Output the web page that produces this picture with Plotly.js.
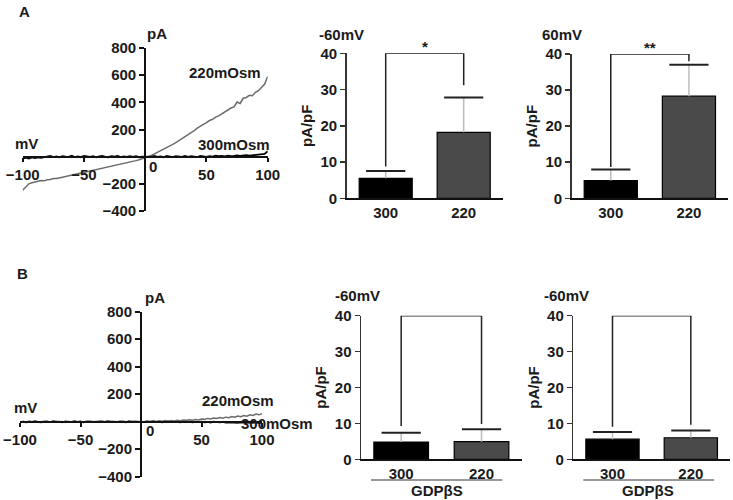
<!DOCTYPE html>
<html>
<head>
<meta charset="utf-8">
<script src="https://cdn.plot.ly/plotly-3.0.1.min.js"></script>
<style>html,body{margin:0;padding:0;background:#fff;}#chart{width:733px;height:500px;}</style>
</head>
<body>
<div id="chart"></div>
<script>
// ---------- DATA ----------
const mV = [-100,-97.5,-95,-92.5,-90,-87.5,-85,-82.5,-80,-77.5,-75,-72.5,-70,-67.5,-65,-62.5,-60,-57.5,-55,-52.5,-50,-47.5,-45,-42.5,-40,-37.5,-35,-32.5,-30,-27.5,-25,-22.5,-20,-17.5,-15,-12.5,-10,-7.5,-5,-2.5,0,2.5,5,7.5,10,12.5,15,17.5,20,22.5,25,27.5,30,32.5,35,37.5,40,42.5,45,47.5,50,52.5,55,57.5,60,62.5,65,67.5,70,72.5,75,77.5,80,82.5,85,87.5,90,92.5,95,97.5,100];
const iA220 = [-248,-222,-200,-192,-186,-183,-176,-178,-170,-168,-161,-160,-153,-151,-146,-141,-137,-134,-127,-124,-117,-114,-108,-102,-97,-94,-88,-82,-78,-72,-68,-63,-57,-52,-46,-41,-35,-29,-23,-16,-8,0,9,20,31,43,55,66,78,91,104,118,133,148,164,178,192,210,221,238,250,266,275,291,300,316,327,342,358,366,402,392,430,436,452,448,474,486,512,535,590];
const iA300 = [-12,-8,-14,-6,-10,-5,-9,-3,-1,6,-3,2,-5,4,0,-2,7,-3,1,-4,5,0,-2,3,-5,2,6,-1,-4,3,0,5,-3,2,-2,4,-1,3,-4,1,0,3,-2,5,-1,2,-4,6,0,-3,4,1,-2,5,-1,3,0,-3,6,2,-1,4,1,7,3,5,2,8,4,6,9,5,8,11,7,10,13,12,16,20,40];
const iB220 = [-4,2,-6,0,-3,3,-5,1,-2,4,-4,0,3,-3,1,-5,2,-1,4,-2,0,-4,3,-1,2,-3,1,4,-2,0,3,-1,2,-3,4,0,-2,3,1,-1,2,0,4,1,5,2,6,3,8,4,9,6,11,7,12,10,14,11,16,13,20,17,24,20,27,23,30,26,33,29,37,32,41,36,45,40,50,45,55,50,58];
const iB300 = [-3,1,-4,2,-2,3,-1,-5,2,0,-3,4,-2,1,-4,2,0,-3,3,-1,2,-4,1,3,-2,0,-3,2,-1,4,-2,1,-3,2,0,-4,3,-1,1,-2,0,-3,2,-1,3,-2,1,-4,0,2,-3,1,-1,-4,2,-2,0,-5,-1,-3,1,-4,-2,-6,0,-3,-5,-2,-7,-4,-6,-3,-8,-5,-7,-9,-6,-8,-5,-10,-8];

const groups = ['300', '220'];
const meanA_neg60 = [5.5, 18.2];
const semA_neg60  = [2.0, 9.6];
const meanA_pos60 = [4.9, 28.3];
const semA_pos60  = [3.1, 8.7];
const meanB_left  = [4.8, 4.9];
const semB_left   = [2.6, 3.5];
const meanB_right = [5.6, 6.0];
const semB_right  = [2.0, 2.0];

const bracketTop = 40;
const legsA_neg60 = [8.8, 31.2];
const legsA_pos60 = [8.7, 38.0];
const legsB_left  = [9.3, 9.8];
const legsB_right = [9.1, 9.6];

const ivTicksX = [-100, -50, 50, 100];
const ivTicksY = [-400, -200, 200, 400, 600, 800];
const barTicksY = [0, 10, 20, 30, 40];

// ---------- STYLE ----------
const W = 733, H = 500;
const FF = 'Liberation Sans, Arial, Helvetica, sans-serif';
const TXT = '#1a1a1a';
const F = {family: FF, size: 15, color: TXT, weight: 'bold'};
const px = (x) => x / W;
const py = (y) => 1 - y / H;

const traces = [];
// IV A
traces.push({x: mV, y: iA220, xaxis: 'x', yaxis: 'y', mode: 'lines', line: {color: '#6b6b6b', width: 1.5}, hoverinfo: 'skip'});
traces.push({x: mV, y: iA300, xaxis: 'x', yaxis: 'y', mode: 'lines', line: {color: '#000', width: 1.8}, hoverinfo: 'skip'});
// IV B
traces.push({x: mV, y: iB300, xaxis: 'x2', yaxis: 'y2', mode: 'lines', line: {color: '#111', width: 1.8}, hoverinfo: 'skip'});
traces.push({x: mV, y: iB220, xaxis: 'x2', yaxis: 'y2', mode: 'lines', line: {color: '#6b6b6b', width: 1.5}, hoverinfo: 'skip'});

function barPanel(n, mean, sem) {
  const xa = 'x' + n, ya = 'y' + n;
  traces.push({
    type: 'bar', x: groups, y: mean, xaxis: xa, yaxis: ya,
    marker: {color: ['#000000', '#4a4a4a'], line: {color: '#000', width: 1.2}},
    error_y: {type: 'data', symmetric: false, array: sem, arrayminus: [0, 0], color: '#bdbdbd', thickness: 1.5, width: 0},
    hoverinfo: 'skip'
  });
  traces.push({
    type: 'scatter', mode: 'markers', x: groups, y: mean.map((m, i) => m + sem[i]), xaxis: xa, yaxis: ya,
    marker: {symbol: 'line-ew', size: 28, color: '#222', line: {color: '#222', width: 2}},
    hoverinfo: 'skip'
  });
}
barPanel(3, meanA_neg60, semA_neg60);
barPanel(4, meanA_pos60, semA_pos60);
barPanel(5, meanB_left, semB_left);
barPanel(6, meanB_right, semB_right);

// ---------- AXES ----------
function ivX(dom, pos) {
  return {domain: dom, range: [-100, 100], anchor: 'free', position: pos, tickvals: ivTicksX,
    showline: true, linecolor: '#111', linewidth: 2, ticks: 'outside', ticklen: 4, tickwidth: 2, tickcolor: '#111',
    showgrid: false, zeroline: false, tickfont: F, fixedrange: true};
}
function ivY(dom, pos) {
  return {domain: dom, range: [-400, 800], anchor: 'free', position: pos, tickvals: ivTicksY,
    showline: true, linecolor: '#111', linewidth: 2, ticks: 'outside', ticklen: 5, tickwidth: 2, tickcolor: '#111',
    showgrid: false, zeroline: false, tickfont: F, fixedrange: true};
}
function barX(dom, anchor) {
  return {domain: dom, anchor: anchor, type: 'category', range: [-0.5, 1.5], showline: true, linecolor: '#111', linewidth: 1.5,
    ticks: '', showgrid: false, zeroline: false, tickfont: F, fixedrange: true};
}
function barY(dom, anchor) {
  return {domain: dom, anchor: anchor, range: [0, 40], tickvals: barTicksY, showline: true, linecolor: '#333', linewidth: 1.5,
    ticks: 'outside', ticklen: 5, tickwidth: 1.5, tickcolor: '#333', showgrid: false, zeroline: false, tickfont: F,
    title: {text: 'pA/pF', font: F, standoff: 4}, fixedrange: true};
}

const dAx = [px(22.7), px(267.7)], dAy = [py(211), py(48)];
const dBx = [px(20), px(262)], dBy = [py(476.7), py(311.7)];

const layout = {
  width: W, height: H, margin: {l: 0, r: 0, t: 0, b: 0}, paper_bgcolor: '#fff', plot_bgcolor: 'rgba(0,0,0,0)',
  showlegend: false, bargap: 0.32, font: {family: FF, color: TXT},
  xaxis: ivX(dAx, dAy[0] + (dAy[1] - dAy[0]) / 3),
  yaxis: ivY(dAy, (dAx[0] + dAx[1]) / 2),
  xaxis2: ivX(dBx, dBy[0] + (dBy[1] - dBy[0]) / 3),
  yaxis2: ivY(dBy, (dBx[0] + dBx[1]) / 2),
  xaxis3: barX([px(346.7), px(502.7)], 'y3'),
  yaxis3: barY([py(198.3), py(53.3)], 'x3'),
  xaxis4: barX([px(571.7), px(728)], 'y4'),
  yaxis4: barY([py(198.3), py(54)], 'x4'),
  xaxis5: barX([px(361), px(521.7)], 'y5'),
  yaxis5: barY([py(459.3), py(315.7)], 'x5'),
  xaxis6: barX([px(573.3), px(730)], 'y6'),
  yaxis6: barY([py(459.3), py(315.7)], 'x6'),
  shapes: [], annotations: []
};

function bracket(n, legs) {
  layout.shapes.push({type: 'path', xref: 'x' + n, yref: 'y' + n,
    path: `M 0 ${legs[0]} L 0 ${bracketTop} L 1 ${bracketTop} L 1 ${legs[1]}`,
    line: {color: '#222', width: 1.5}});
}
bracket(3, legsA_neg60);
bracket(4, legsA_pos60);
bracket(5, legsB_left);
bracket(6, legsB_right);

function note(text, x, y, opts) {
  layout.annotations.push(Object.assign({text: text, x: px(x), y: py(y), xref: 'paper', yref: 'paper',
    showarrow: false, font: F, xanchor: 'center', yanchor: 'middle'}, opts || {}));
}
note('A', 24, 11);
note('B', 22, 273);
note('pA', 157, 33);
note('mV', 27, 143);
note('220mOsm', 225, 72);
note('300mOsm', 234, 144);
note('0', 153, 166);
note('pA', 155, 297);
note('mV', 25, 407);
note('220mOsm', 238, 400);
note('300mOsm', 277, 423);
note('0', 150, 430);
note('-60mV', 341.7, 34);
note('60mV', 562, 34);
note('-60mV', 357.7, 295);
note('-60mV', 566.3, 295);
note('GDPβS', 436.7, 490);
note('GDPβS', 648.3, 490);
layout.annotations.push({text: '*', xref: 'x3', yref: 'y3', x: 0.5, y: bracketTop, yanchor: 'bottom', showarrow: false, font: F, yshift: -4});
layout.annotations.push({text: '**', xref: 'x4', yref: 'y4', x: 0.5, y: bracketTop, yanchor: 'bottom', showarrow: false, font: F, yshift: -4});

layout.shapes.push({type: 'line', xref: 'paper', yref: 'paper', x0: px(371), x1: px(502.3), y0: py(480), y1: py(480), line: {color: '#333', width: 1.2}});
layout.shapes.push({type: 'line', xref: 'paper', yref: 'paper', x0: px(583.3), x1: px(714), y0: py(480), y1: py(480), line: {color: '#333', width: 1.2}});

Plotly.newPlot('chart', traces, layout, {staticPlot: true, displayModeBar: false});
</script>
</body>
</html>
